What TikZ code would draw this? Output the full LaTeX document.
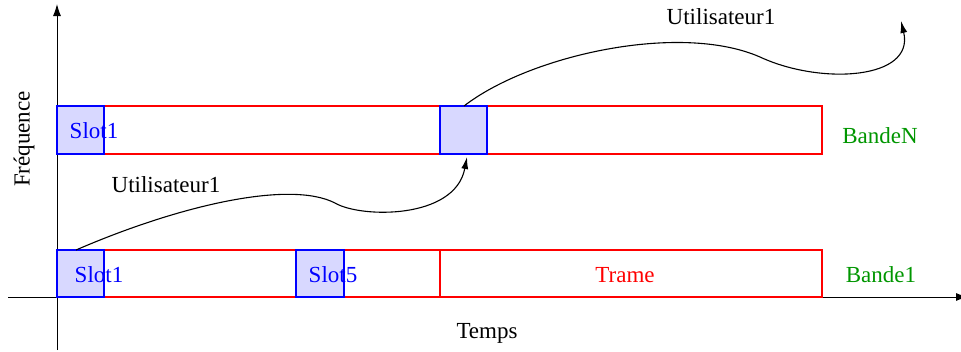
\documentclass[tikz,border=0pt]{standalone}
\usepackage{fontspec}
\setmainfont{Liberation Serif}
\usetikzlibrary{arrows.meta}
\definecolor{slotfill}{RGB}{216,216,255}
\definecolor{bandgreen}{RGB}{0,150,0}
\tikzset{
  band/.style={draw=red, line width=1.6pt, inner sep=0pt, outer sep=0pt, anchor=north west, minimum width=765pt},
  slotbox/.style={draw=blue, fill=slotfill, line width=1.6pt, inner sep=0pt, outer sep=0pt, anchor=north west, minimum width=47pt},
  lbl/.style={inner sep=0pt, font=\fontsize{23}{27}\selectfont},
  axis/.style={line width=1pt, -{Latex[length=12pt,width=8pt]}},
  user/.style={line width=1.1pt, -{Latex[length=12pt,width=7pt]}},
}
\begin{document}
\begin{tikzpicture}[x=1pt, y=-1pt]
\useasboundingbox (0,0) rectangle (961,351);
% axes
\coordinate (xo) at (8,297);
\coordinate (xe) at (968,297);
\coordinate (yo) at (57,350);
\coordinate (ye) at (57,4);
\begin{scope}
\clip (0,0) rectangle (961,351);
\draw[axis] (xo) -- (xe);
\end{scope}
\draw[axis] (yo) -- (ye);
% bands
\node[band, minimum height=47pt] (b1) at (57,250) {};
\node[band, minimum height=48pt] (bn) at (57,106) {};
\node[band, minimum width=382pt, minimum height=47pt] (trame) at (440,250) {};
% slots
\node[slotbox, minimum height=47pt] (s1) at (57,250) {};
\node[slotbox, minimum height=47pt, minimum width=48pt] (s5) at (296,250) {};
\node[slotbox, minimum height=48pt] (n1) at (57,106) {};
\node[slotbox, minimum height=48pt] (nx) at (440,106) {};
% labels
\node[lbl, text=blue] (ts1) at (99,275) {Slot1};
\node[lbl, text=blue] (ts5) at (333,275) {Slot5};
\node[lbl, text=blue] (tn1) at (94,131) {Slot1};
\node[lbl, text=red] (tt) at (625,275) {Trame};
\node[lbl, text=bandgreen] (tb1) at (881,275) {Bande1};
\node[lbl, text=bandgreen] (tbn) at (880,136) {BandeN};
\node[lbl] (u1) at (166,185) {Utilisateur1};
\node[lbl] (u2) at (721,17) {Utilisateur1};
\node[lbl] (temps) at (487,333) {Temps};
\node[lbl, rotate=90] (freq) at (24,139) {Fréquence};
% user curves
\coordinate (c1s) at (76,250);
\coordinate (c1e) at (467,157);
\coordinate (c2s) at (464,106);
\coordinate (c2e) at (901,21);
\draw[user] (c1s) .. controls (180,205) and (290,180) .. (335,203)
  .. controls (360,218) and (455,220) .. (c1e);
\draw[user] (c2s) .. controls (530,55) and (680,22) .. (760,57)
  .. controls (820,85) and (915,80) .. (c2e);
\end{tikzpicture}
\end{document}
